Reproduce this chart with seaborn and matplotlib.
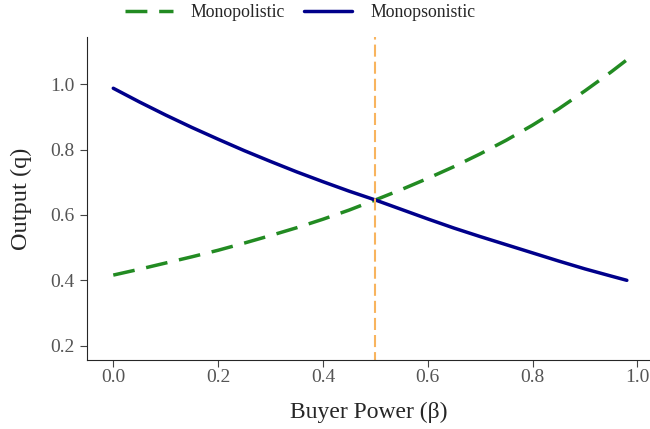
import matplotlib
matplotlib.use("Agg")
import matplotlib.pyplot as plt
import seaborn as sns
import pandas as pd

buyer_power = [0.00, 0.05, 0.10, 0.15, 0.20, 0.25, 0.30, 0.35, 0.40, 0.45, 0.50,
               0.55, 0.60, 0.65, 0.70, 0.75, 0.80, 0.85, 0.90, 0.95, 0.98]
monopolistic = [0.416, 0.434, 0.453, 0.472, 0.492, 0.514, 0.537, 0.561, 0.587, 0.615, 0.646,
                0.678, 0.712, 0.748, 0.787, 0.829, 0.875, 0.925, 0.980, 1.038, 1.075]
monopsonistic = [0.988, 0.946, 0.906, 0.868, 0.832, 0.797, 0.764, 0.732, 0.702, 0.673, 0.646,
                 0.617, 0.588, 0.560, 0.534, 0.509, 0.484, 0.459, 0.435, 0.413, 0.400]
x_ticks = [0.0, 0.2, 0.4, 0.6, 0.8, 1.0]
y_ticks = [0.2, 0.4, 0.6, 0.8, 1.0]
series_names = ["Monopolistic", "Monopsonistic"]
critical_beta = 0.5

sns.set_style("ticks")
plt.rcParams['font.family'] = ['Liberation Serif', 'DejaVu Serif']

df = pd.DataFrame({
    "beta": buyer_power * 2,
    "q": monopolistic + monopsonistic,
    "Market": [series_names[0]] * len(buyer_power) + [series_names[1]] * len(buyer_power),
})

fig = plt.figure(figsize=(6.5, 4.29), dpi=100)
ax = fig.add_axes([0.1338, 0.1608, 0.8662, 0.753])

sns.lineplot(data=df, x="beta", y="q", hue="Market", style="Market",
             palette={series_names[0]: "#228B22", series_names[1]: "#00008B"},
             dashes={series_names[0]: (6.3, 3.4), series_names[1]: ""},
             linewidth=2.5, ax=ax, legend=False)
ax.axvline(critical_beta, color="#F8B45E", linestyle=(2, (5.8, 2.4)), linewidth=1.5)

ax.set_xlim(-0.0502, 1.0242)
ax.set_ylim(0.156, 1.145)
ax.set_xticks(x_ticks)
ax.set_yticks(y_ticks)
ax.set_xticklabels([f"{t:.1f}" for t in x_ticks])
ax.set_yticklabels([f"{t:.1f}" for t in y_ticks])
ax.tick_params(axis="both", labelsize=14, labelcolor="#555555", color="#444444", length=5)
ax.tick_params(axis="x", pad=1.5)
ax.tick_params(axis="y", pad=4)
ax.set_xlabel("Buyer Power (β)", fontsize=17, labelpad=11)
ax.set_ylabel("Output (q)", fontsize=17.5, labelpad=13)
sns.despine(ax=ax)

handles = [ax.lines[0], ax.lines[1]]
fig.legend(handles, series_names, loc="center", bbox_to_anchor=(300 / 650, 1 - 12.5 / 429),
           ncol=2, frameon=False, fontsize=12.8, handlelength=2.7, handletextpad=1.0,
           columnspacing=1.1, borderpad=0.0)

fig.savefig("out.png", dpi=100)
